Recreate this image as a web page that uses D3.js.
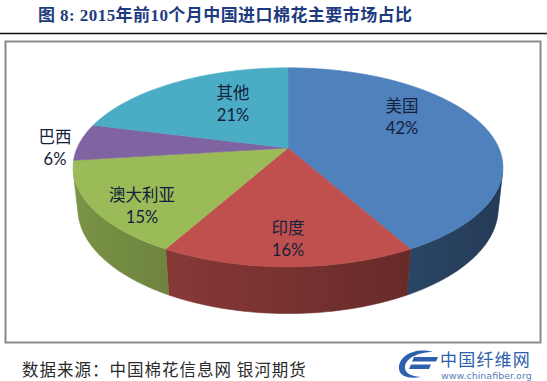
<!DOCTYPE html>
<html>
<head>
<meta charset="utf-8">
<script src="https://cdn.jsdelivr.net/npm/d3@7"></script>
<style>
  body { margin: 0; background: #fff; }
  svg { display: block; }
</style>
</head>
<body>
<svg width="547" height="381"></svg>
<script>
// Data (2015年前10个月中国进口棉花主要市场占比)
var categories = ["美国", "印度", "澳大利亚", "巴西", "其他"];
var shares = [42, 16, 15, 6, 21];
var percentLabels = ["42%", "16%", "15%", "6%", "21%"];
var colors = ["#4f81bd", "#c0504d", "#9bbb59", "#8064a2", "#4bacc6"];

var svg = d3.select("svg"),
    width = +svg.attr("width"),
    height = +svg.attr("height");

// Layout: 3D pie projection (perspective camera looking down on a disc)
var cam = { cx: 288, cy: 148, f: 970, dist: 4.6, tilt: Math.asin(0.454), depth: 0.22 };
// label block centres (Excel puts these by "best fit")
var labelSpots = [[402, 116], [288, 238], [142, 205], [55, 147], [233, 103]];

function project(theta, r, y) {
  var x = r * Math.sin(theta), z = r * Math.cos(theta);
  var c = Math.cos(cam.tilt), s = Math.sin(cam.tilt);
  var yc = y * c + z * s;
  var zc = z * c - y * s;
  var k = cam.f / (cam.dist + zc);
  return [cam.cx + x * k, cam.cy - yc * k];
}

function arcPoints(a, b, y) {
  var n = Math.max(2, Math.ceil(Math.abs(b - a) / 0.015));
  return d3.range(n + 1).map(function (i) { return project(a + (b - a) * i / n, 1, y); });
}

// Title + rule
svg.append("text")
    .attr("x", 38)
    .attr("y", 21)
    .attr("font-family", "'Liberation Serif', 'Noto Sans CJK SC', serif")
    .attr("font-weight", "bold")
    .attr("font-size", 17)
    .attr("fill", "#1f3b80")
    .attr("textLength", 374)
    .attr("lengthAdjust", "spacing")
    .text("图  8: 2015年前10个月中国进口棉花主要市场占比");

svg.append("line")
    .attr("x1", 0).attr("x2", width)
    .attr("y1", 33.5).attr("y2", 33.5)
    .attr("stroke", "#111")
    .attr("stroke-width", 1.3);

// Chart box
svg.append("rect")
    .attr("x", 5.5).attr("y", 41.5)
    .attr("width", 535).attr("height", 301)
    .attr("fill", "#fff")
    .attr("stroke", "#8a8a8a")
    .attr("stroke-width", 2);

// Pie layout
var pie = d3.pie().sort(null).startAngle(0).endAngle(2 * Math.PI);
var slices = pie(shares);

var defs = svg.append("defs");
var g = svg.append("g");

// visible part of the side wall (tangent points seen from the camera)
var thMin = Math.acos(-1 / (cam.dist * Math.cos(cam.tilt)));
var thMax = 2 * Math.PI - thMin;

function shade(theta) { return 0.62 - 0.18 * Math.sin(theta); }

function wallColor(base, theta) {
  var c = d3.rgb(base), k = shade(theta);
  return d3.rgb(c.r * k, c.g * k, c.b * k).formatHex();
}

// Side walls
slices.forEach(function (d, i) {
  var a = Math.max(d.startAngle, thMin), b = Math.min(d.endAngle, thMax);
  if (a >= b) return;
  var top = arcPoints(a, b, 0);
  var bottom = arcPoints(b, a, -cam.depth);
  var xa = top[0][0], xb = top[top.length - 1][0];
  var grad = defs.append("linearGradient")
      .attr("id", "wall" + i)
      .attr("gradientUnits", "userSpaceOnUse")
      .attr("x1", xa).attr("x2", xb)
      .attr("y1", 0).attr("y2", 0);
  d3.range(7).forEach(function (j) {
    var t = a + (b - a) * j / 6;
    var px = project(t, 1, 0)[0];
    grad.append("stop")
        .attr("offset", (px - xa) / (xb - xa))
        .attr("stop-color", wallColor(colors[i], t));
  });
  g.append("path")
      .attr("d", "M" + top.concat(bottom).join("L") + "Z")
      .attr("fill", "url(#wall" + i + ")")
      .attr("stroke", "url(#wall" + i + ")")
      .attr("stroke-width", 0.6);
});

// Top faces
var apex = project(0, 0, 0);
g.selectAll("path.top")
  .data(slices)
  .enter()
  .append("path")
    .attr("class", "top")
    .attr("d", function (d) {
      return "M" + [apex].concat(arcPoints(d.startAngle, d.endAngle, 0)).join("L") + "Z";
    })
    .attr("fill", function (d, i) { return colors[i]; })
    .attr("stroke", function (d, i) { return colors[i]; })
    .attr("stroke-width", 0.6);

// Data labels
var labels = svg.append("g")
    .attr("font-family", "Lato, 'Noto Sans CJK SC', sans-serif")
    .attr("font-size", 16.5)
    .attr("fill", "#15203a")
    .attr("text-anchor", "middle");

categories.forEach(function (name, i) {
  var p = labelSpots[i];
  labels.append("text")
      .attr("x", p[0]).attr("y", p[1] - 11.5)
      .attr("dominant-baseline", "central")
      .attr("font-family", "'Noto Sans CJK SC', sans-serif")
      .text(name);
  labels.append("text")
      .attr("x", p[0]).attr("y", p[1] + 11.5)
      .attr("dominant-baseline", "central")
      .text(percentLabels[i]);
});

// Source line
svg.append("text")
    .attr("x", 22)
    .attr("y", 376)
    .attr("font-family", "'Noto Sans CJK SC', sans-serif")
    .attr("font-size", 16.5)
    .attr("letter-spacing", 1)
    .attr("fill", "#2a2a2a")
    .text("数据来源：中国棉花信息网 银河期货");

// Logo: 中国纤维网
var logo = svg.append("g").attr("fill", "#2d60ad");
logo.append("path")
    .attr("d", "M433,352 C415,347 398,356 399,369 C400,377 410,379 421,377 C409,376 404,372 405,366 C407,357 420,352 433,352 Z");
logo.append("path").attr("d", "M414,357 L438,357 L436,361.5 L412,361.5 Z");
logo.append("path").attr("d", "M411,364.5 L431,364.5 L429,369 L409,369 Z");
logo.append("text")
    .attr("x", 440).attr("y", 366)
    .attr("font-family", "'Noto Sans CJK SC', sans-serif")
    .attr("font-size", 17)
    .attr("letter-spacing", 1.2)
    .text("中国纤维网");
logo.append("text")
    .attr("x", 441).attr("y", 379)
    .attr("font-family", "'DejaVu Sans', sans-serif")
    .attr("font-size", 9.5)
    .attr("fill", "#5a7fb8")
    .text("www.chinafiber.org");
</script>
</body>
</html>
